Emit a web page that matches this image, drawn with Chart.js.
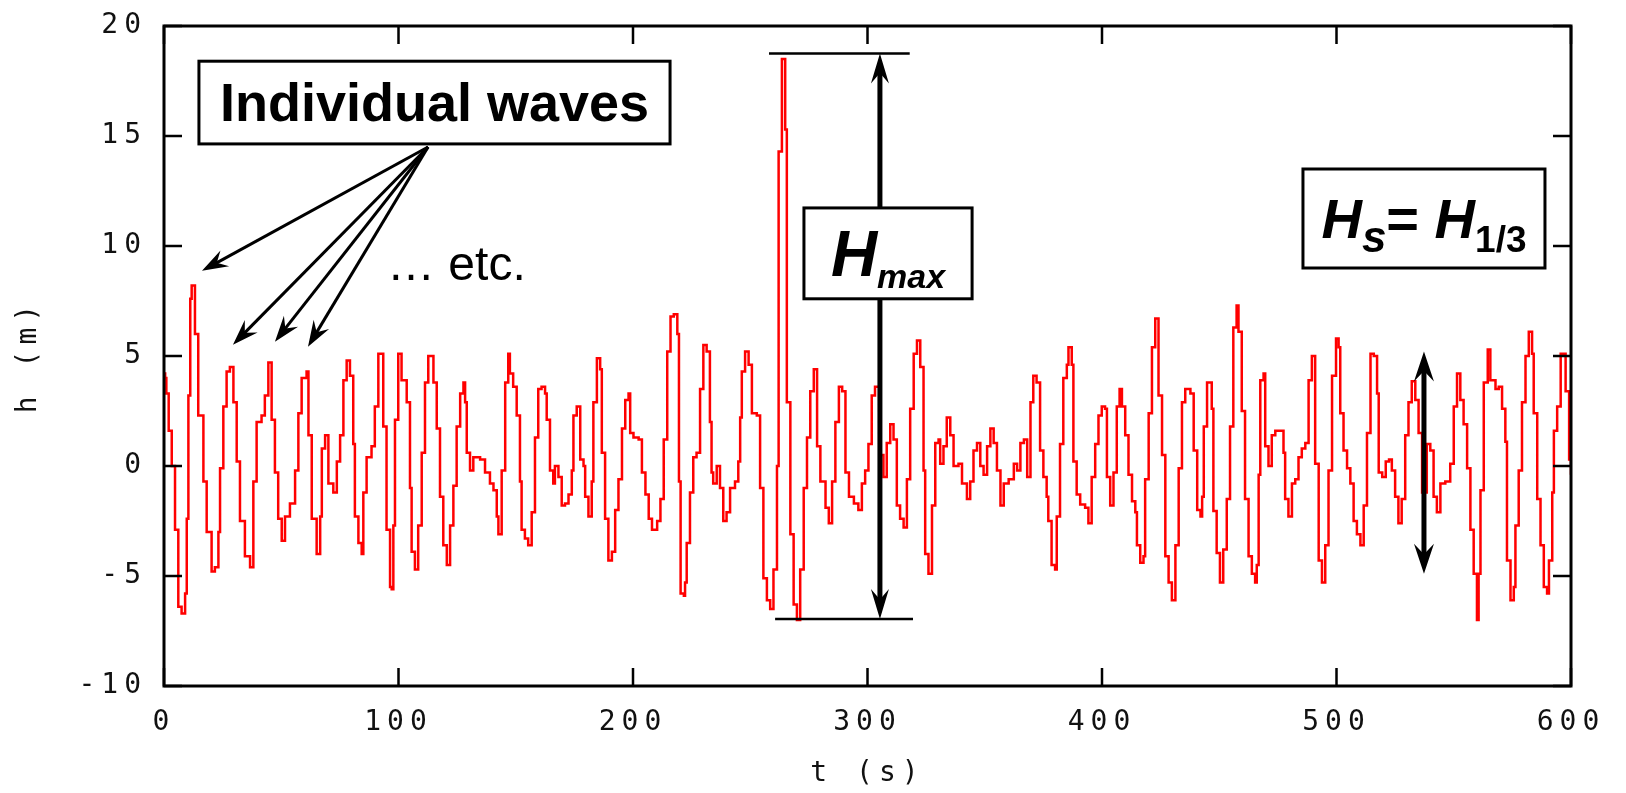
<!DOCTYPE html>
<html>
<head>
<meta charset="utf-8">
<script src="https://cdn.jsdelivr.net/npm/chart.js@4/dist/chart.umd.min.js"></script>
<style>
  html, body { margin: 0; padding: 0; background: #fff; }
</style>
</head>
<body>
<canvas id="waveChart" width="1626" height="793"></canvas>
<script>
// time (s) and surface elevation h (m)
const timeS = [
  0, 0.5, 1.0, 2.0, 3.3, 4.7, 6.1, 7.5, 9.0, 9.7, 10.4, 11.2, 11.8, 13.2, 14.6, 16.8, 18.2, 20.3, 21.7, 23.2,
  23.9, 25.3, 26.7, 28.1, 29.6, 31.0, 32.4, 34.5, 36.7, 38.1, 39.5, 41.6, 43.0, 44.5, 45.9, 47.3, 48.7, 50.2, 51.6, 53.7,
  55.9, 57.3, 58.7, 60.8, 61.6, 63.0, 65.1, 66.6, 67.3, 68.7, 70.1, 72.2, 73.7, 75.1, 76.5, 77.9, 79.3, 80.7, 81.4, 82.9,
  84.3, 85.0, 86.4, 88.5, 89.9, 91.4, 92.8, 93.5, 94.9, 96.4, 97.1, 97.8, 98.5, 99.9, 101.3, 103.5, 104.9, 105.6, 107.0, 108.4,
  109.9, 111.3, 112.7, 114.9, 116.3, 117.7, 119.1, 120.6, 122.0, 123.4, 124.8, 126.3, 127.7, 128.4, 129.1, 130.5, 131.9, 134.8, 136.9, 139.0,
  140.5, 141.9, 142.6, 144.0, 145.5, 146.8, 147.5, 148.9, 150.4, 151.8, 152.5, 153.9, 155.3, 156.8, 158.2, 159.6, 161.0, 162.5, 163.2, 164.6,
  166.0, 166.7, 168.2, 169.6, 171.0, 172.5, 173.9, 174.6, 176.0, 177.5, 178.9, 179.6, 181.0, 182.4, 183.1, 184.6, 186.0, 186.7, 188.1, 189.5,
  191.0, 192.4, 193.8, 195.3, 196.7, 198.1, 198.8, 200.2, 202.4, 203.8, 205.3, 206.7, 208.1, 210.3, 211.7, 213.1, 214.6, 216.0, 217.4, 218.9,
  219.6, 220.3, 221.7, 222.2, 222.9, 224.3, 225.7, 227.1, 228.6, 230.0, 231.4, 232.8, 233.5, 234.2, 235.7, 237.1, 238.5, 239.9, 241.4, 243.5,
  244.9, 245.7, 246.4, 247.8, 249.3, 250.7, 252.8, 254.2, 255.6, 257.1, 258.5, 259.9, 261.4, 262.1, 263.5, 264.9, 265.6, 267.1, 268.5, 269.9,
  271.3, 272.8, 274.2, 275.6, 277.1, 278.5, 279.9, 282.1, 283.5, 284.9, 286.3, 287.8, 289.2, 290.6, 292.1, 294.2, 296.1, 297.6, 299.0, 300.4,
  301.8, 303.2, 305.0, 306.8, 308.2, 309.7, 311.1, 312.5, 313.9, 315.4, 316.8, 318.2, 319.7, 321.1, 322.5, 323.9, 324.6, 326.0, 327.5, 328.9,
  330.3, 331.0, 332.4, 333.8, 335.3, 336.7, 338.8, 340.3, 342.4, 343.8, 345.2, 346.7, 348.1, 349.5, 351.0, 352.4, 353.8, 355.2, 356.7, 358.1,
  360.2, 362.4, 363.8, 365.2, 366.7, 368.1, 369.5, 370.7, 372.1, 373.6, 375.0, 376.4, 377.1, 378.5, 380.0, 380.7, 382.1, 383.5, 385.0, 385.7,
  387.1, 387.8, 389.2, 390.7, 392.8, 394.2, 395.6, 397.1, 398.5, 399.9, 401.3, 402.1, 403.5, 404.9, 406.3, 407.5, 408.5, 409.9, 411.3, 412.8,
  414.2, 414.9, 416.3, 417.7, 418.4, 419.9, 421.3, 422.7, 424.1, 425.6, 427.0, 428.4, 429.8, 431.3, 432.7, 434.1, 435.5, 437.7, 439.1, 440.6,
  442.0, 442.7, 443.4, 444.8, 446.8, 447.5, 448.9, 450.3, 451.7, 453.2, 454.6, 456.0, 457.4, 458.2, 459.6, 461.0, 462.5, 463.9, 465.3, 466.0,
  466.8, 467.5, 468.9, 469.6, 471.0, 472.4, 473.9, 476.0, 477.4, 478.1, 479.5, 481.0, 482.4, 483.8, 485.2, 486.7, 488.1, 489.5, 490.9, 492.4,
  493.8, 495.2, 496.6, 498.1, 499.8, 500.9, 501.6, 503.0, 504.5, 505.9, 507.3, 508.7, 510.2, 511.6, 513.0, 514.5, 515.9, 517.3, 518.0, 519.5,
  521.0, 522.4, 523.6, 525.0, 526.4, 527.8, 529.3, 530.7, 532.1, 533.6, 535.0, 536.5, 538.5, 540.0, 541.4, 542.8, 544.3, 546.4, 548.5, 550.0,
  551.4, 552.8, 554.2, 555.7, 557.1, 558.5, 559.9, 560.6, 561.4, 562.8, 564.5, 565.6, 567.8, 569.2, 570.6, 572.0, 572.7, 574.2, 575.6, 576.3,
  577.7, 579.1, 580.6, 582.0, 583.4, 584.1, 585.6, 587.0, 588.4, 589.8, 590.6, 592.0, 592.7, 594.1, 595.6, 597.0, 597.7, 599.2, 600.0
];
const heightM = [
  4.2, 4.0, 3.3, 1.6, 0, -2.9, -6.4, -6.7, -5.8, -2.4, 3.2, 7.6, 8.2, 6.0, 2.3, -0.7, -3.0, -4.8, -4.6, -3.0,
  -0.1, 2.7, 4.3, 4.5, 2.9, 0.2, -2.5, -4.1, -4.6, -0.7, 2.0, 2.3, 3.2, 4.7, 2.1, -0.3, -2.4, -3.4, -2.3, -1.7,
  -0.2, 2.4, 4.0, 4.3, 1.4, -2.4, -4.0, -2.3, 0.8, 1.4, -0.8, -1.2, 0.2, 1.4, 3.9, 4.8, 4.1, 1.0, -2.3, -3.5,
  -4.0, -1.2, 0.4, 0.9, 2.7, 5.1, 5.1, 1.8, -2.9, -5.5, -5.6, -2.7, 2.1, 5.1, 3.9, 2.9, -1.0, -3.9, -4.7, -2.7,
  0.6, 3.8, 5.0, 3.8, 1.7, -1.4, -3.6, -4.5, -2.7, -0.9, 1.8, 3.3, 3.8, 2.9, 0.6, -0.2, 0.4, 0.3, -0.3, -0.8,
  -1.1, -2.3, -3.1, -0.2, 3.8, 5.1, 4.2, 3.6, 2.3, -0.7, -2.9, -3.3, -3.6, -2.1, 1.3, 3.5, 3.6, 3.3, 2.1, -0.2,
  -0.8, 0, -0.5, -1.8, -1.7, -1.3, -0.2, 2.3, 2.7, 0.3, 0, -1.4, -2.3, -0.7, 2.9, 4.9, 4.4, 0.6, -2.4, -4.3,
  -3.9, -2.0, -0.6, 1.7, 3.0, 3.3, 1.5, 1.3, 1.2, -0.3, -1.3, -2.4, -2.9, -2.5, -1.5, 1.2, 5.2, 6.8, 6.9, 6.0,
  -0.7, -5.8, -5.9, -5.3, -3.5, -1.2, 0.4, 0.6, 3.5, 5.5, 5.2, 2.0, -0.3, -0.8, 0.0, -1.0, -2.5, -2.1, -1.0, -0.7,
  0.2, 2.2, 4.3, 5.2, 4.6, 2.4, 2.3, -1.0, -5.1, -6.1, -6.5, -4.7, 0.0, 14.3, 18.5, 15.3, 2.9, -3.1, -6.3, -7.0,
  -4.7, -1.0, 1.3, 3.4, 4.4, 0.9, -0.7, -1.9, -2.6, -0.7, 2.0, 3.6, 3.4, -0.3, -1.4, -1.7, -2.0, -0.8, -0.2, 1.0,
  3.2, 3.6, 0.5, -0.5, 1.05, 1.9, 1.2, -1.8, -2.4, -2.8, -0.6, 2.6, 5.1, 5.7, 4.5, -0.2, -4.0, -4.9, -1.8, 1.05,
  1.2, 0.1, 0.9, 2.2, 1.4, 0, 0.1, -0.8, -1.5, -0.7, 0.7, 1.05, 0, -0.4, 0.9, 1.7, 1.05, -0.2, -1.8, -0.8,
  -0.6, 0.1, -0.2, 1.05, 1.2, -0.5, 2.9, 4.1, 3.8, 0.7, -0.5, -1.4, -2.5, -4.5, -4.7, -2.3, 1.0, 4.0, 4.6, 5.4,
  4.6, 0.2, -1.3, -1.75, -1.9, -2.6, -0.5, 1.0, 2.3, 2.7, 2.6, -0.5, -1.8, -0.3, 2.7, 3.5, 2.7, 1.4, -0.4, -1.6,
  -2.1, -3.6, -4.4, -4.1, -0.6, 2.4, 5.4, 6.7, 3.2, 0.5, -4.1, -5.3, -6.1, -3.6, -0.1, 2.9, 3.5, 3.3, 0.7, -2.0,
  -2.3, -1.4, 1.8, 3.8, 2.6, -2.05, -3.95, -5.3, -3.8, -1.5, 1.8, 6.3, 7.3, 6.1, 2.5, -1.5, -4.1, -4.9, -5.3, -4.5,
  -0.4, 3.9, 4.2, 0.9, 0, 1.4, 1.6, 1.6, 0.6, -1.5, -2.3, -0.8, -0.6, 0.4, 0.8, 1.05, 3.9, 5.0, 0.1, -4.3,
  -5.3, -3.6, -0.2, 4.1, 5.8, 5.4, 2.4, 0.7, -0.1, -0.8, -2.5, -3.1, -3.6, -1.8, 1.5, 5.1, 5.0, 3.3, -0.3, -0.5,
  0.2, 0.3, -0.2, -1.4, -2.6, -1.5, 1.4, 2.9, 3.85, 3.0, 1.5, -1.2, 1.0, 0.7, -1.4, -2.1, -0.8, -0.7, 0.1, 2.7,
  4.2, 3.0, 1.9, -0.1, -2.9, -4.9, -7.0, -4.9, -1.1, 3.8, 5.3, 3.9, 3.5, 3.6, 2.6, 1.1, -4.3, -6.1, -5.5, -2.7,
  -0.2, 2.9, 5.0, 6.1, 5.1, 2.4, -1.5, -3.6, -5.5, -5.8, -4.3, -1.2, 1.6, 2.7, 5.1, 5.1, 3.4, 0.3, -0.4
];
const xRange = [0, 600];
const yRange = [-10, 20];

const points = timeS.map((t, i) => ({ x: t, y: heightM[i] }));

// annotation placement in data units (t, h)
const waveBox = { t0: 14.9, t1: 215.8, h0: 18.4, h1: 14.64 };
const waveFrom = { t: 112.6, h: 14.5 };
const waveTips = [
  { t: 16.2, h: 8.87 },
  { t: 29.4, h: 5.51 },
  { t: 47.3, h: 5.65 },
  { t: 61.4, h: 5.42 }
];
const etcAt = { t: 95.1, h: 8.45 };
const hmaxTop = { t0: 258, t1: 318, h: 18.75 };
const hmaxBottom = { t0: 260.6, t1: 319.4, h: -6.95 };
const hmaxArrowT = 305.3;
const hmaxBox = { t0: 272.9, t1: 344.6, h0: 11.73, h1: 7.6 };
const hsBox = { t0: 485.7, t1: 588.9, h0: 13.5, h1: 9.0 };
const hsArrow = { t: 537.3, h0: 5.2, h1: -4.9 };

function arrowHead(ctx, x, y, ang, len, hw) {
  ctx.save();
  ctx.translate(x, y);
  ctx.rotate(ang);
  ctx.beginPath();
  ctx.moveTo(0, 0);
  ctx.lineTo(-len, -hw);
  ctx.lineTo(-len * 0.65, 0);
  ctx.lineTo(-len, hw);
  ctx.closePath();
  ctx.fill();
  ctx.restore();
}

// shaft stops at the notch so the tip stays sharp
function arrow(ctx, x0, y0, x1, y1, width, len, hw, both) {
  const ang = Math.atan2(y1 - y0, x1 - x0);
  const back = len * 0.6;
  let sx = x0, sy = y0;
  if (both) { sx = x0 + Math.cos(ang) * back; sy = y0 + Math.sin(ang) * back; }
  ctx.lineWidth = width;
  ctx.beginPath();
  ctx.moveTo(sx, sy);
  ctx.lineTo(x1 - Math.cos(ang) * back, y1 - Math.sin(ang) * back);
  ctx.stroke();
  arrowHead(ctx, x1, y1, ang, len, hw);
  if (both) arrowHead(ctx, x0, y0, ang + Math.PI, len, hw);
}

function box(ctx, x0, y0, x1, y1) {
  ctx.fillStyle = '#fff';
  ctx.fillRect(x0, y0, x1 - x0, y1 - y0);
  ctx.lineWidth = 3;
  ctx.strokeRect(x0, y0, x1 - x0, y1 - y0);
  ctx.fillStyle = '#000';
}

// draws runs of [text, font, baselineShift] centred on cx
function runs(ctx, parts, cx, baseY) {
  let w = 0;
  parts.forEach(p => { ctx.font = p[1]; w += ctx.measureText(p[0]).width; });
  let x = cx - w / 2;
  ctx.textAlign = 'left';
  ctx.textBaseline = 'alphabetic';
  parts.forEach(p => {
    ctx.font = p[1];
    ctx.fillText(p[0], x, baseY + p[2]);
    x += ctx.measureText(p[0]).width;
  });
}

const overlay = {
  id: 'overlay',
  beforeDraw(chart) {
    chart.ctx.letterSpacing = '6px';
  },
  afterDraw(chart) {
    const ctx = chart.ctx;
    const xs = chart.scales.x, ys = chart.scales.y, a = chart.chartArea;
    const px = t => xs.getPixelForValue(t);
    const py = h => ys.getPixelForValue(h);
    ctx.save();
    ctx.letterSpacing = '0px';
    ctx.strokeStyle = '#000';
    ctx.fillStyle = '#000';

    // frame with inward ticks
    ctx.lineWidth = 3;
    ctx.strokeRect(a.left, a.top, a.right - a.left, a.bottom - a.top);
    ctx.lineWidth = 2.5;
    ctx.beginPath();
    ys.ticks.forEach(tk => {
      const y = py(tk.value);
      ctx.moveTo(a.left, y); ctx.lineTo(a.left + 18, y);
      ctx.moveTo(a.right, y); ctx.lineTo(a.right - 18, y);
    });
    xs.ticks.forEach(tk => {
      const x = px(tk.value);
      ctx.moveTo(x, a.bottom); ctx.lineTo(x, a.bottom - 18);
      ctx.moveTo(x, a.top); ctx.lineTo(x, a.top + 18);
    });
    ctx.stroke();

    // individual waves
    waveTips.forEach(tp => {
      arrow(ctx, px(waveFrom.t), py(waveFrom.h), px(tp.t), py(tp.h), 3, 26, 9, false);
    });
    box(ctx, px(waveBox.t0), py(waveBox.h0), px(waveBox.t1), py(waveBox.h1));
    runs(ctx, [['Individual waves', 'bold 54px "Liberation Sans", Arial, sans-serif', 0]],
      (px(waveBox.t0) + px(waveBox.t1)) / 2,
      py(waveBox.h0) + 0.72 * (py(waveBox.h1) - py(waveBox.h0)));
    ctx.font = '48px "Liberation Sans", Arial, sans-serif';
    ctx.textAlign = 'left';
    ctx.fillText('\u2026 etc.', px(etcAt.t), py(etcAt.h));

    // H max
    ctx.lineWidth = 2.5;
    ctx.beginPath();
    ctx.moveTo(px(hmaxTop.t0), py(hmaxTop.h)); ctx.lineTo(px(hmaxTop.t1), py(hmaxTop.h));
    ctx.moveTo(px(hmaxBottom.t0), py(hmaxBottom.h)); ctx.lineTo(px(hmaxBottom.t1), py(hmaxBottom.h));
    ctx.stroke();
    arrow(ctx, px(hmaxArrowT), py(hmaxTop.h), px(hmaxArrowT), py(hmaxBottom.h), 5, 30, 9, true);
    box(ctx, px(hmaxBox.t0), py(hmaxBox.h0), px(hmaxBox.t1), py(hmaxBox.h1));
    runs(ctx, [
      ['H', 'italic bold 64px "Liberation Sans", Arial, sans-serif', 0],
      ['max', 'italic bold 34px "Liberation Sans", Arial, sans-serif', 12]
    ], (px(hmaxBox.t0) + px(hmaxBox.t1)) / 2,
      py(hmaxBox.h0) + 0.747 * (py(hmaxBox.h1) - py(hmaxBox.h0)));

    // H s = H 1/3
    box(ctx, px(hsBox.t0), py(hsBox.h0), px(hsBox.t1), py(hsBox.h1));
    runs(ctx, [
      ['H', 'italic bold 56px "Liberation Sans", Arial, sans-serif', 0],
      ['s', 'italic bold 44px "Liberation Sans", Arial, sans-serif', 14],
      ['= ', 'bold 56px "Liberation Sans", Arial, sans-serif', 0],
      ['H', 'italic bold 56px "Liberation Sans", Arial, sans-serif', 0],
      ['1/3', 'bold 37px "Liberation Sans", Arial, sans-serif', 14]
    ], (px(hsBox.t0) + px(hsBox.t1)) / 2,
      py(hsBox.h0) + 0.70 * (py(hsBox.h1) - py(hsBox.h0)));
    arrow(ctx, px(hsArrow.t), py(hsArrow.h0), px(hsArrow.t), py(hsArrow.h1), 5, 30, 10, true);

    ctx.restore();
  }
};

const monoFont = { family: '"DejaVu Sans Mono", monospace', size: 28 };

new Chart(document.getElementById('waveChart'), {
  type: 'line',
  data: {
    datasets: [{
      data: points,
      borderColor: 'rgb(255,0,0)',
      borderWidth: 2.5,
      pointRadius: 0,
      stepped: true,
      tension: 0,
      fill: false
    }]
  },
  options: {
    responsive: false,
    animation: false,
    parsing: false,
    layout: { padding: { left: 0, right: 55, top: 26, bottom: 0 } },
    plugins: { legend: { display: false }, tooltip: { enabled: false } },
    scales: {
      x: {
        type: 'linear',
        min: xRange[0], max: xRange[1],
        grid: { display: false, drawTicks: false },
        border: { display: false },
        ticks: { stepSize: 100, color: '#111', font: monoFont, padding: 20, maxRotation: 0 },
        title: { display: true, text: 't (s)', color: '#111', font: monoFont, padding: { top: 0, bottom: 2 } },
        afterFit: s => { s.height = 107; s.paddingLeft = 0; s.paddingRight = 0; }
      },
      y: {
        min: yRange[0], max: yRange[1],
        grid: { display: false, drawTicks: false },
        border: { display: false },
        ticks: { stepSize: 5, color: '#111', font: monoFont, padding: 17 },
        title: { display: true, text: 'h (m)', color: '#111', font: monoFont, padding: { top: 12, bottom: 0 } },
        afterFit: s => { s.width = 164; s.paddingTop = 0; s.paddingBottom = 0; }
      }
    }
  },
  plugins: [overlay]
});
</script>
</body>
</html>
